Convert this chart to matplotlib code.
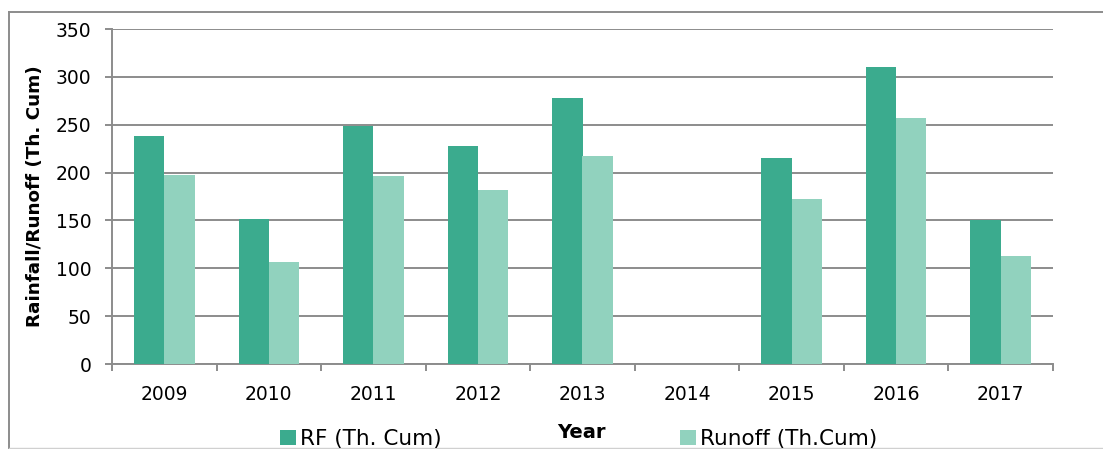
import numpy as np
import matplotlib
matplotlib.use("Agg")
import matplotlib.pyplot as plt
from matplotlib.lines import Line2D

years = ["2009", "2010", "2011", "2012", "2013", "2014", "2015", "2016", "2017"]
rf = [238, 151, 249, 228, 278, np.nan, 215, 310, 150]
runoff = [197, 107, 196, 182, 217, np.nan, 172, 257, 113]

plt.rcParams['font.family'] = ['DejaVu Sans']

W, H = 1103, 449
fig = plt.figure(figsize=(W / 100, H / 100), dpi=100)
ax = fig.add_axes([112 / W, 1 - 364 / H, (1053 - 112) / W, (364 - 29) / H])

x = np.arange(len(years))
bw = 0.29
c_rf = "#3BAB8E"
c_ro = "#91D2BE"
ax.bar(x - bw / 2, rf, bw, color=c_rf, label="RF (Th. Cum)", zorder=3)
ax.bar(x + bw / 2, runoff, bw, color=c_ro, label="Runoff (Th.Cum)", zorder=3)

ax.set_xlim(-0.5, len(years) - 0.5)
ax.set_ylim(0, 350)
ax.set_yticks(np.arange(0, 351, 50))
ax.yaxis.grid(True, color="#8c8c8c", lw=1.4, zorder=0)
ax.set_axisbelow(True)

ax.set_xticks(x)
ax.set_xticklabels(years)
ax.set_xticks(np.arange(-0.5, len(years), 1), minor=True)
ax.tick_params(axis="x", which="major", length=0, pad=15, labelsize=13.5)
ax.tick_params(axis="x", which="minor", length=5, width=1.4, color="#8c8c8c", direction="out")
ax.tick_params(axis="y", length=5, width=1.4, color="#8c8c8c", pad=10, labelsize=13.5)

for s in ["top", "right"]:
    ax.spines[s].set_visible(False)
for s in ["left", "bottom"]:
    ax.spines[s].set_color("#8c8c8c")
    ax.spines[s].set_linewidth(1.4)

ax.set_ylabel("Rainfall/Runoff (Th. Cum)", fontsize=13.2, fontweight="bold", labelpad=8)
fig.text(581 / W, 1 - 432 / H, "Year", ha="center", va="center", fontsize=14, fontweight="bold")

h, l = ax.get_legend_handles_labels()
fig.legend(h, l, ncol=2, loc="center left", bbox_to_anchor=(280 / W, 1 - 439 / H),
           frameon=False, fontsize=15.5, handlelength=0.75, handleheight=0.75,
           handletextpad=0.2, columnspacing=11.05, borderaxespad=0, borderpad=0)

# outer frame
fig.add_artist(Line2D([9 / W, 1.0], [1 - 12 / H, 1 - 12 / H], transform=fig.transFigure, color="#8c8c8c", lw=1.4))
fig.add_artist(Line2D([9 / W, 9 / W], [1 - 12 / H, 0], transform=fig.transFigure, color="#8c8c8c", lw=1.4))
fig.add_artist(Line2D([9 / W, 1.0], [1 - 448 / H, 1 - 448 / H], transform=fig.transFigure, color="#d0d0d0", lw=1.0))

fig.savefig("out.png", dpi=100)
